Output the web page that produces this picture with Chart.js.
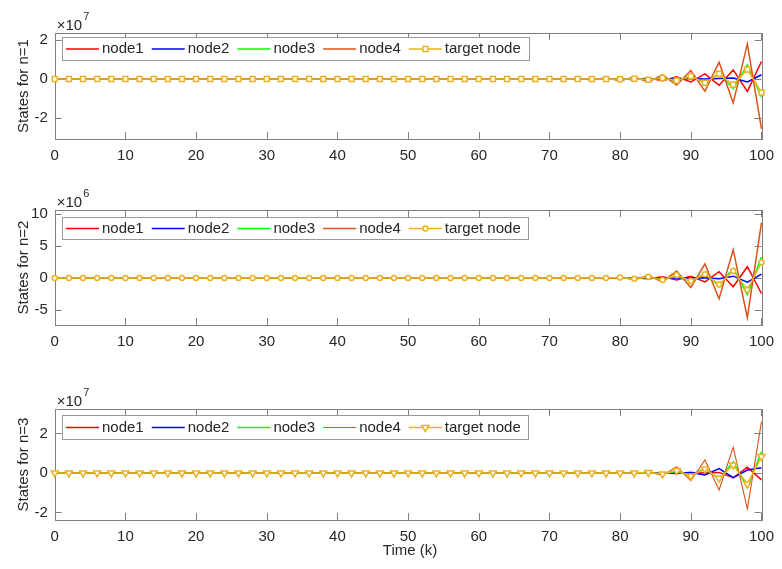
<!DOCTYPE html>
<html><head><meta charset="utf-8">
<script src="https://cdn.jsdelivr.net/npm/chart.js@4"></script>
<style>html,body{margin:0;padding:0;background:#fff;width:782px;height:569px;overflow:hidden}canvas{position:absolute;left:0;top:0}</style>
</head><body>
<canvas id="c1" width="782" height="569"></canvas>
<canvas id="c2" width="782" height="569"></canvas>
<canvas id="c3" width="782" height="569"></canvas>
<script>
// time steps k
const timeK = [0,2,4,6,8,10,12,14,16,18,20,22,24,26,28,30,32,34,36,38,40,42,44,46,48,50,52,54,56,58,60,62,64,66,68,70,72,74,76,78,80,82,84,86,88,90,92,94,96,98,100];
const xTicks = [0,10,20,30,40,50,60,70,80,90,100];
const seriesNames = ['node1','node2','node3','node4','target node'];

// n=1 (values x 10^7)
const n1_node1 = [0,0,0,0,0,0,0,0,0,0,0,0,0,0,0,0,0,0,0,0,0,0,0,0,0,0,0,0,0,0,0,0,0,0,0, 0,0,0,0.01,-0.01,0.02,-0.03,0.05,-0.08,0.12,-0.15,0.27,-0.32,0.47,-0.63,0.90];
const n1_node2 = [0,0,0,0,0,0,0,0,0,0,0,0,0,0,0,0,0,0,0,0,0,0,0,0,0,0,0,0,0,0,0,0,0,0,0, 0,0,0,0,0,0,0,0,0,0.01,0.02,0,0.03,0.05,-0.15,0.22];
const n1_node3 = [0,0,0,0,0,0,0,0,0,0,0,0,0,0,0,0,0,0,0,0,0,0,0,0,0,0,0,0,0,0,0,0,0,0,0, 0,0,0,0,0,-0.01,0.02,-0.04,0.06,-0.10,0.14,-0.22,0.30,-0.49,0.73,-0.92];
const n1_node4 = [0,0,0,0,0,0,0,0,0,0,0,0,0,0,0,0,0,0,0,0,0,0,0,0,0,0,0,0,0,0,0,0,0,0,0, 0.01,-0.01,0.02,-0.03,0.05,-0.08,0.11,-0.15,0.22,-0.31,0.44,-0.63,0.86,-1.22,1.80,-2.55];
const n1_target = [0,0,0,0,0,0,0,0,0,0,0,0,0,0,0,0,0,0,0,0,0,0,0,0,0,0,0,0,0,0,0,0,0,0,0, 0,0,0,0,0,-0.01,0.02,-0.03,0.05,-0.07,0.14,-0.19,0.27,-0.29,0.49,-0.69];
const n1_yTicks = [-2,0,2];

// n=2 (values x 10^6)
const n2_node1 = [0,0,0,0,0,0,0,0,0,0,0,0,0,0,0,0,0,0,0,0,0,0,0,0,0,0,0,0,0,0,0,0,0,0,0, 0,0,0,0,0,-0.05,0.1,-0.15,0.2,-0.3,0.3,-0.6,1.0,-1.35,1.77,-2.4];
const n2_node2 = [0,0,0,0,0,0,0,0,0,0,0,0,0,0,0,0,0,0,0,0,0,0,0,0,0,0,0,0,0,0,0,0,0,0,0, 0,0,0,0,0,0,0,0,0,0,0.02,0.05,-0.1,0.3,-0.63,0.63];
const n2_node3 = [0,0,0,0,0,0,0,0,0,0,0,0,0,0,0,0,0,0,0,0,0,0,0,0,0,0,0,0,0,0,0,0,0,0,0, 0,0,0,0,0,0.05,-0.08,0.12,-0.2,0.3,-0.47,0.73,-1.25,1.5,-2.55,3.3];
const n2_node4 = [0,0,0,0,0,0,0,0,0,0,0,0,0,0,0,0,0,0,0,0,0,0,0,0,0,0,0,0,0,0,0,0,0,0,0, -0.01,0.02,-0.03,0.06,-0.1,0.15,-0.25,0.4,-0.6,1.1,-1.46,2.2,-3.2,4.4,-6.15,8.65];
const n2_target = [0,0,0,0,0,0,0,0,0,0,0,0,0,0,0,0,0,0,0,0,0,0,0,0,0,0,0,0,0,0,0,0,0,0,0, 0,0,0,0,0,0.1,-0.12,0.2,-0.3,0.47,-0.47,0.6,-1.0,1.1,-1.8,2.45];
const n2_yTicks = [-5,0,5,10];

// n=3 (values x 10^7)
const n3_node1 = [0,0,0,0,0,0,0,0,0,0,0,0,0,0,0,0,0,0,0,0,0,0,0,0,0,0,0,0,0,0,0,0,0,0,0, 0,0,0,0,0,0,0,0,0,-0.02,0.02,0,0.03,-0.24,0.29,-0.35];
const n3_node2 = [0,0,0,0,0,0,0,0,0,0,0,0,0,0,0,0,0,0,0,0,0,0,0,0,0,0,0,0,0,0,0,0,0,0,0, 0,0,0,0,0,0,0,0,0,0,0.02,-0.1,0.22,-0.24,0.15,0.27];
const n3_node3 = [0,0,0,0,0,0,0,0,0,0,0,0,0,0,0,0,0,0,0,0,0,0,0,0,0,0,0,0,0,0,0,0,0,0,0, 0,0,0,0,0,0,0,0,-0.04,0.08,-0.14,0.24,-0.32,0.57,-0.76,1.08];
const n3_node4 = [0,0,0,0,0,0,0,0,0,0,0,0,0,0,0,0,0,0,0,0,0,0,0,0,0,0,0,0,0,0,0,0,0,0,0, 0,0,0,0,0,0,-0.03,0.06,-0.12,0.32,-0.39,0.66,-0.86,1.3,-1.82,2.6];
const n3_target = [0,0,0,0,0,0,0,0,0,0,0,0,0,0,0,0,0,0,0,0,0,0,0,0,0,0,0,0,0,0,0,0,0,0,0, 0,0,0,0,0,0,0,0.03,-0.05,0.12,-0.15,0.2,-0.27,0.4,-0.56,0.83];
const n3_yTicks = [-2,0,2];

const FONT = '"Liberation Sans", Arial, Helvetica, sans-serif';
const TEXT = '#262626';
const AXIS = '#808080';
const COLORS = ['#ff0000','#0000ff','#00ff00','#d95319','#edb120'];
const W = 782, H = 569;
const LEFT = 54.75, RIGHT = 767.25, XH = 30, TL = 7;

const framePlugin = {
  id: 'frame',
  beforeDatasetsDraw(chart, args, o) {
    const {ctx, chartArea: a, scales: {x, y}} = chart;
    ctx.save();
    ctx.strokeStyle = AXIS; ctx.lineWidth = 1;
    ctx.beginPath();
    x.ticks.forEach(t => {
      const px = Math.round(x.getPixelForValue(t.value)) + 0.5;
      ctx.moveTo(px, a.bottom); ctx.lineTo(px, a.bottom - TL);
      ctx.moveTo(px, a.top); ctx.lineTo(px, a.top + TL);
    });
    y.ticks.forEach(t => {
      const py = Math.round(y.getPixelForValue(t.value)) + 0.5;
      ctx.moveTo(a.left, py); ctx.lineTo(a.left + TL, py);
      ctx.moveTo(a.right, py); ctx.lineTo(a.right - TL, py);
    });
    ctx.stroke();
    ctx.strokeRect(Math.round(a.left) + 0.5, Math.round(a.top) + 0.5, Math.round(a.right - a.left), Math.round(a.bottom - a.top));
    // exponent
    ctx.fillStyle = TEXT;
    ctx.textBaseline = 'alphabetic'; ctx.textAlign = 'left';
    ctx.font = '15px ' + FONT;
    const ex = a.left + 2, ey = a.top - 3.5;
    ctx.fillText('\u00d710', ex, ey);
    const w = ctx.measureText('\u00d710').width;
    ctx.font = '11px ' + FONT;
    ctx.fillText(o.exp, ex + w + 1, ey - 9.5);
    // y title
    ctx.font = '15px ' + FONT;
    ctx.save();
    ctx.translate(24, (a.top + a.bottom) / 2);
    ctx.rotate(-Math.PI / 2);
    ctx.textAlign = 'center'; ctx.textBaseline = 'middle';
    ctx.fillText(o.ytitle, 0, 0);
    ctx.restore();
    if (o.xtitle) {
      ctx.textAlign = 'center'; ctx.textBaseline = 'middle';
      ctx.fillText(o.xtitle, 410, 551);
    }
    ctx.restore();
  },
  afterDatasetsDraw(chart, args, o) {
    const {ctx} = chart;
    ctx.save();
    ctx.font = '15px ' + FONT;
    const L = o.legend;
    const x0 = L.x, y0 = L.y, h = L.h;
    ctx.fillStyle = '#fff';
    ctx.fillRect(x0, y0, L.w, h);
    ctx.strokeStyle = '#999'; ctx.lineWidth = 1;
    ctx.strokeRect(x0 + 0.5, y0 + 0.5, L.w, h);
    let cx = x0 + 4;
    const cy = y0 + h / 2 + 0.5;
    chart.data.datasets.slice().sort((p, q) => q.order - p.order).forEach(ds => {
      ctx.strokeStyle = ds.borderColor; ctx.lineWidth = ds.borderWidth;
      ctx.beginPath(); ctx.moveTo(cx, cy); ctx.lineTo(cx + 33, cy); ctx.stroke();
      if (ds.pointRadius > 0) {
        ctx.fillStyle = ds.pointBackgroundColor; ctx.strokeStyle = ds.borderColor; ctx.lineWidth = ds.pointBorderWidth;
        Chart.helpers.drawPoint(ctx, {pointStyle: ds.pointStyle, radius: ds.pointRadius, rotation: ds.pointRotation || 0, borderWidth: ds.pointBorderWidth}, cx + 16.5, cy);
      }
      cx += 36;
      ctx.fillStyle = TEXT; ctx.textAlign = 'left'; ctx.textBaseline = 'middle';
      ctx.fillText(ds.label, cx, cy);
      cx += ctx.measureText(ds.label).width + 8;
    });
    ctx.restore();
  }
};

function makeChart(id, data, yMin, yMax, yTicks, top, bottom, exp, ytitle, pstyle, prot, prad, lw4, lwAll, legend, xtitle) {
  const datasets = data.map((vals, i) => ({
    label: seriesNames[i],
    data: vals.map((v, j) => ({x: timeK[j], y: v})),
    borderColor: COLORS[i],
    backgroundColor: COLORS[i],
    borderWidth: i === 3 ? lw4 : lwAll,
    pointRadius: i === 4 ? prad : 0,
    pointStyle: pstyle,
    pointRotation: prot,
    pointBackgroundColor: '#ffffff',
    pointBorderColor: COLORS[i],
    pointBorderWidth: 1.5,
    tension: 0,
    clip: false,
    order: 4 - i
  }));
  return new Chart(document.getElementById(id), {
    type: 'line',
    data: {datasets},
    plugins: [framePlugin],
    options: {
      responsive: false, animation: false, devicePixelRatio: 1,
      layout: {padding: {left: 0, top: top, right: W - RIGHT, bottom: H - bottom - XH}},
      plugins: {legend: {display: false}, tooltip: {enabled: false},
        frame: {exp, ytitle, xtitle, legend}},
      scales: {
        x: {type: 'linear', min: 0, max: 100,
          afterBuildTicks: s => { s.ticks = xTicks.map(v => ({value: v})); },
          afterFit: s => { s.height = XH; },
          grid: {display: false, drawTicks: false}, border: {display: false},
          ticks: {color: TEXT, font: {size: 15, family: FONT}, padding: 8, maxRotation: 0, autoSkip: false}},
        y: {type: 'linear', min: yMin, max: yMax,
          afterBuildTicks: s => { s.ticks = yTicks.map(v => ({value: v})); },
          afterFit: s => { s.width = LEFT; },
          grid: {display: false, drawTicks: false}, border: {display: false},
          ticks: {color: TEXT, font: {size: 15, family: FONT}, padding: 7, autoSkip: false}}
      }
    }
  });
}

makeChart('c1', [n1_node1, n1_node2, n1_node3, n1_node4, n1_target], -3.07, 2.36, n1_yTicks, 33, 139, '7', 'States for n=1', 'rect', 0, 3.5, 1.5, 1.5, {x: 62, y: 37, w: 467, h: 23});
makeChart('c2', [n2_node1, n2_node2, n2_node3, n2_node4, n2_target], -7.3, 10.6, n2_yTicks, 210, 325, '6', 'States for n=2', 'circle', 0, 2.5, 1.5, 1.5, {x: 62, y: 217, w: 466, h: 22});
makeChart('c3', [n3_node1, n3_node2, n3_node3, n3_node4, n3_target], -2.38, 3.24, n3_yTicks, 409, 520, '7', 'States for n=3', 'triangle', 180, 4, 1.1, 1.5, {x: 62, y: 415, w: 466, h: 24}, 'Time (k)');
</script>
</body></html>
